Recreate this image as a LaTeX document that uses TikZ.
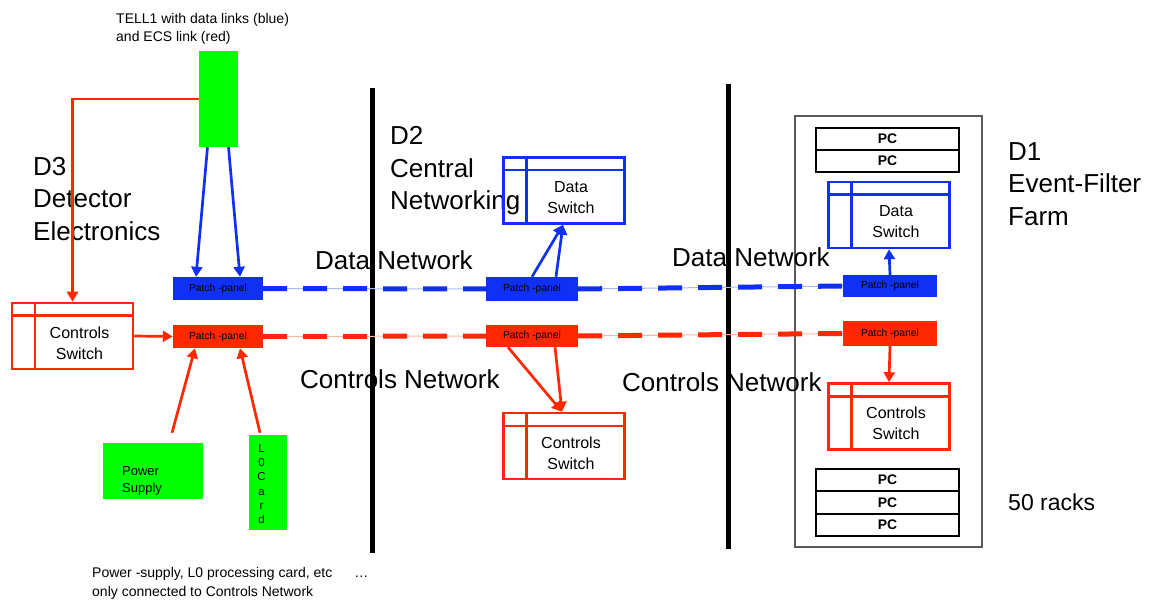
\documentclass[tikz,border=0pt]{standalone}
\usepackage{fontspec}
\setmainfont{Liberation Sans}
\usetikzlibrary{arrows.meta}
\definecolor{netblue}{RGB}{16,48,245}
\definecolor{netred}{RGB}{255,40,0}
\definecolor{boxgreen}{RGB}{0,255,0}
\definecolor{rackgray}{RGB}{90,90,90}
\tikzset{
  bigtext/.style={font=\fontsize{26}{32.5}\selectfont, align=left, inner sep=0pt, anchor=west},
  smalltext/.style={font=\fontsize{14}{18}\selectfont, align=left, inner sep=0pt, anchor=west},
  swframe/.style={draw, line width=2.5pt, minimum width=121pt, minimum height=66pt, inner sep=0pt},
  swtext/.style={font=\fontsize{16}{21}\selectfont, align=center, inner sep=0pt},
  patch/.style={minimum width=90pt, minimum height=23pt, inner sep=0pt, font=\fontsize{10.3}{12}\selectfont},
  greenbox/.style={fill=boxgreen, inner sep=0pt},
  pcbox/.style={draw=black, line width=1.2pt, minimum width=143pt, minimum height=22pt, inner sep=0pt, font=\bfseries\fontsize{13.9}{15}\selectfont},
  link/.style={line width=2.7pt, -{Triangle[width=11pt,length=10pt]}},
  trunkbase/.style={line width=1pt},
  trunk/.style={line width=5pt, dash pattern=on 24pt off 16pt},
  divider/.style={line width=5pt, black},
}
\newcommand\switchbox[4]{%
  \node[swframe, draw=#3] (#1) at (#2) {};
  \draw[#3, line width=2.5pt] ([xshift=24pt]#1.north west) -- ([xshift=24pt]#1.south west);
  \draw[#3, line width=2.5pt] ([yshift=-14pt]#1.north west) -- ([yshift=-14pt]#1.north east);
  \node[swtext] (#1-t) at ([xshift=7pt,yshift=-7pt]#1.center) {#4};
}
\begin{document}
\begin{tikzpicture}[x=1pt,y=-1pt]
\useasboundingbox (0,0) rectangle (1153,601);

% dividers
\coordinate (v1t) at (372,88);
\coordinate (v1b) at (372,553);
\coordinate (v2t) at (728,84);
\coordinate (v2b) at (728,549);
\draw[divider] (v1t) -- (v1b);
\draw[divider] (v2t) -- (v2b);

% rack frame
\node[draw=rackgray, line width=1.3pt, minimum width=187pt, minimum height=431pt, inner sep=0pt] (rack) at (888.5,331.5) {};
\node[pcbox] (pc1) at (887.5,139) {PC};
\node[pcbox] (pc2) at (887.5,161) {PC};
\node[pcbox] (pc3) at (887.5,480) {PC};
\node[pcbox] (pc4) at (887.5,502.5) {PC};
\node[pcbox] (pc5) at (887.5,525) {PC};

% texts
\node[smalltext] (telltxt) at (116,29) {TELL1 with data links (blue)\\and ECS link (red)};
\node[bigtext] (d3) at (33,199) {D3\\Detector\\Electronics};
\node[bigtext] (d2) at (390,171) {D2\\Central\\Networking};
\node[bigtext] (d1) at (1008,184) {D1\\Event-Filter\\Farm};
\node[bigtext] (dn1) at (315,260) {Data Network};
\node[bigtext] (dn2) at (672,257) {Data Network};
\node[bigtext] (cn1) at (300,379) {Controls Network};
\node[bigtext] (cn2) at (622,382) {Controls Network};
\node[bigtext, font=\fontsize{23}{26}\selectfont] (racks) at (1008,502) {50 racks};
\node[smalltext, font=\fontsize{14}{19}\selectfont] (bottxt) at (92,583.5) {Power -supply, L0 processing card, etc\hspace{22pt}…\\only connected to Controls Network};

% green boxes
\node[greenbox, minimum width=39pt, minimum height=96pt] (tell) at (218.5,99) {};
\node[greenbox, minimum width=100pt, minimum height=56pt] (ps) at (153,471) {};
\node[smalltext, font=\fontsize{13}{17}\selectfont] (pstxt) at (122,481) {Power\\Supply};
\node[greenbox, minimum width=38pt, minimum height=95pt] (l0) at (268,482.5) {};
\node[inner sep=0pt, align=center, font=\fontsize{11.5}{14.2}\selectfont] (l0txt) at (261.5,484) {L\\0\\C\\a\\r\\d};

% switches
\switchbox{csL}{72.5,336}{netred}{Controls\\Switch}
\switchbox{dsM}{564,190.5}{netblue}{Data\\Switch}
\switchbox{csM}{564,446}{netred}{Controls\\Switch}
\switchbox{dsR}{889,215}{netblue}{Data\\Switch}
\switchbox{csR}{889,416.5}{netred}{Controls\\Switch}

% patch panels
\node[patch, fill=netblue] (ppLb) at (218,288.5) {Patch -panel};
\node[patch, fill=netred] (ppLr) at (218,336.5) {Patch -panel};
\node[patch, fill=netblue, minimum width=92pt, minimum height=24pt] (ppMb) at (532,289) {Patch -panel};
\node[patch, fill=netred, minimum width=92pt, minimum height=22pt] (ppMr) at (532,336) {Patch -panel};
\node[patch, fill=netblue, minimum width=94pt, minimum height=22pt] (ppRb) at (890,286) {Patch -panel};
\node[patch, fill=netred, minimum width=94pt, minimum height=25pt] (ppRr) at (890,333.5) {Patch -panel};

% trunk lines
\draw[trunkbase, netblue!35] (ppLb.east) -- (ppMb.west);
\draw[trunk, netblue] (ppLb.east) -- (ppMb.west);
\draw[trunkbase, netblue!35] (ppMb.east) -- (ppRb.west);
\draw[trunk, netblue] (ppMb.east) -- (ppRb.west);
\draw[trunkbase, netred!35] (ppLr.east) -- (ppMr.west);
\draw[trunk, netred] (ppLr.east) -- (ppMr.west);
\draw[trunkbase, netred!35] (ppMr.east) -- (ppRr.west);
\draw[trunk, netred] (ppMr.east) -- (ppRr.west);

% links
\draw[link, netred] (tell.west) -| (csL.north);
\draw[link, netblue] ([xshift=-11pt]tell.south) -- ([xshift=-22pt]ppLb.north);
\draw[link, netblue] ([xshift=10pt]tell.south) -- ([xshift=22pt]ppLb.north);
\draw[link, netred] (csL.east) -- (ppLr.west);
\draw[link, netred] ([xshift=19pt,yshift=10pt]ps.north) -- ([xshift=-23pt]ppLr.south);
\draw[link, netred] ([xshift=-8pt,yshift=2pt]l0.north) -- ([xshift=22pt]ppLr.south);
\draw[link, netblue] (ppMb.north) -- ([xshift=-1pt]dsM.south);
\draw[link, netblue] ([xshift=24pt]ppMb.north) -- ([xshift=-1pt]dsM.south);
\draw[link, netred] ([xshift=-24pt]ppMr.south) -- ([xshift=-2pt]csM.north);
\draw[link, netred] ([xshift=23pt]ppMr.south) -- ([xshift=-2pt]csM.north);
\draw[link, netblue] (ppRb.north) -- (dsR.south);
\draw[link, netred] (ppRr.south) -- (csR.north);
\end{tikzpicture}
\end{document}
